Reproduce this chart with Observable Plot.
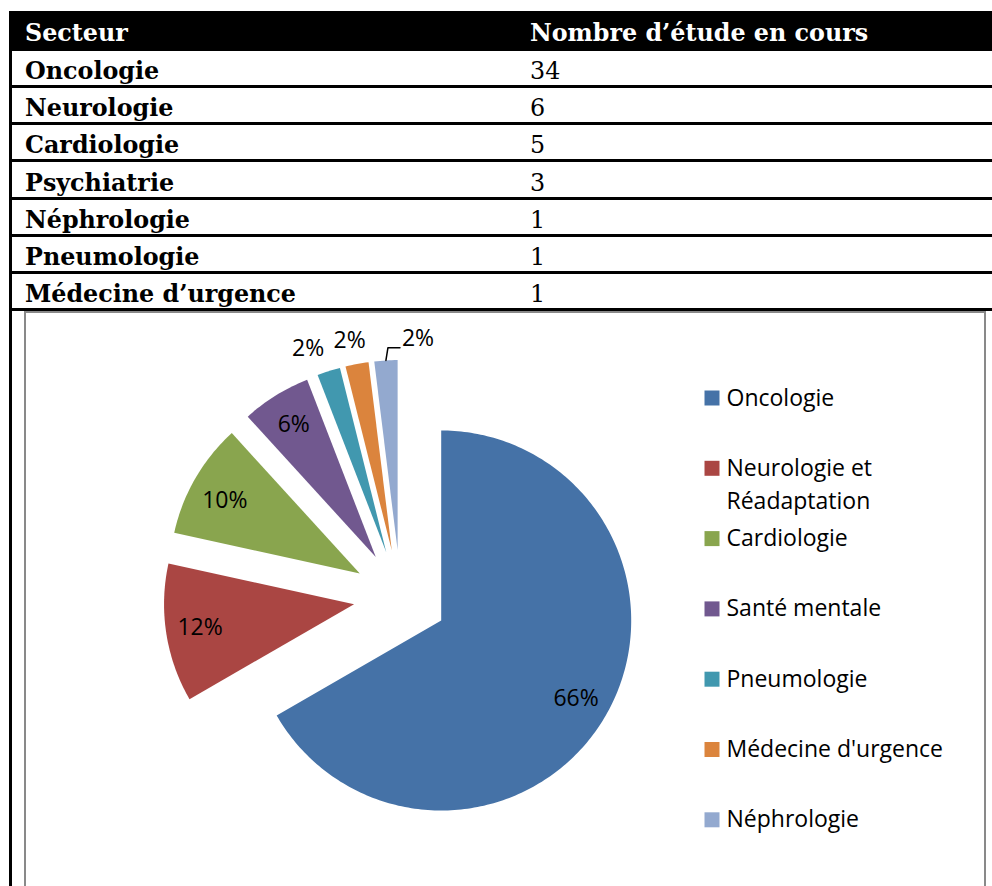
<!DOCTYPE html>
<html>
<head>
<meta charset="utf-8">
<script src="https://cdn.jsdelivr.net/npm/d3@7"></script>
<script src="https://cdn.jsdelivr.net/npm/@observablehq/plot@0.6"></script>
<style>
  html, body { margin: 0; padding: 0; background: #fff; width: 992px; height: 886px; overflow: hidden; }
  body { position: relative; }
  .blk { position: absolute; background: #000; }
  .txt { position: absolute; font-family: "DejaVu Serif", serif; font-size: 23.8px; line-height: 27.7px; white-space: nowrap; }
  .hdr { color: #fff; font-weight: bold; }
  .lab { color: #000; font-weight: bold; }
  .val { color: #000; font-weight: normal; }
  #frame { position: absolute; left: 24px; top: 311px; width: 962px; height: 620px; box-sizing: border-box; border: 2px solid #898989; background: #fff; }
  #chart { position: absolute; left: 26px; top: 313px; }
</style>
</head>
<body>
<div id="page"></div>
<div id="frame"></div>
<div id="chart"></div>
<script>
// ---- Table data ----
const tableHeaders = ["Secteur", "Nombre d’étude en cours"];
const tableSectors = ["Oncologie", "Neurologie", "Cardiologie", "Psychiatrie", "Néphrologie", "Pneumologie", "Médecine d’urgence"];
const tableCounts = [34, 6, 5, 3, 1, 1, 1];

// ---- Pie chart data ----
const pieCategories = ["Oncologie", "Neurologie et Réadaptation", "Cardiologie", "Santé mentale", "Pneumologie", "Médecine d'urgence", "Néphrologie"];
const pieValues = [34, 6, 5, 3, 1, 1, 1];
const pieLabels = ["66%", "12%", "10%", "6%", "2%", "2%", "2%"];
const pieColors = ["#4572A7", "#AA4643", "#89A54E", "#71588F", "#4198AF", "#DB843D", "#93A9CF"];

// ---- Table layout (HTML) ----
const page = document.getElementById("page");
function el(cls, css, text) {
  const d = document.createElement("div");
  d.className = cls;
  Object.assign(d.style, css);
  if (text != null) d.textContent = text;
  page.appendChild(d);
  return d;
}
const ASC = 22.08; // baseline offset inside the line box
const col1 = 25, col2 = 530, pitch = 37.2;
el("blk", {left: "9px", top: "11px", width: "990px", height: "40px"});
el("blk", {left: "9px", top: "11px", width: "3px", height: "880px"});
el("txt hdr", {left: col1 + "px", top: (42 - ASC) + "px"}, tableHeaders[0]);
el("txt hdr", {left: col2 + "px", top: (42 - ASC) + "px"}, tableHeaders[1]);
tableSectors.forEach((s, i) => {
  el("blk", {left: "9px", top: (85 + i * pitch) + "px", width: "990px", height: "3px"});
  const base = 80 + i * pitch;
  el("txt lab", {left: col1 + "px", top: (base - ASC) + "px"}, s);
  el("txt val", {left: col2 + "px", top: (base - ASC) + "px"}, String(tableCounts[i]));
});

// ---- Pie geometry ----
const W = 958, H = 573;
const cx = 374, cy = 283.5, R = 190, EXPLODE = 47;
const total = d3.sum(pieValues);
const data = pieCategories.map((c, i) => ({key: c, value: pieValues[i], label: pieLabels[i]}));
const arcs = d3.pie().sort(null).value(d => d.value)(data);

const polys = [];
const labels = [];
const labelNudge = [[0, 0], [0, 0], [0, 5], [0, 0], [-12.5, 2.7], [-2.5, 2.6], [33.7, 4.6]];
let leader = [];
arcs.forEach((a, i) => {
  const key = a.data.key;
  const mid = (a.startAngle + a.endAngle) / 2;
  const dx = Math.sin(mid), dy = -Math.cos(mid);
  const ax = cx + EXPLODE * dx, ay = cy + EXPLODE * dy;
  polys.push({key, x: ax, y: ay});
  const n = Math.max(2, Math.ceil((a.endAngle - a.startAngle) / (Math.PI / 180)));
  for (let k = 0; k <= n; ++k) {
    const t = a.startAngle + (a.endAngle - a.startAngle) * k / n;
    polys.push({key, x: ax + R * Math.sin(t), y: ay - R * Math.cos(t)});
  }
  const share = a.data.value / total;
  const k = share >= 0.05 ? 0.82 : 1.14;
  const lx = ax + k * R * dx + labelNudge[i][0];
  const ly = ay + k * R * dy + labelNudge[i][1];
  labels.push({x: lx, y: ly, text: a.data.label});
  if (i === arcs.length - 1) {
    const px = ax + R * dx, py = ay + R * dy;
    leader = [{x: px, y: py}, {x: px + 2, y: ly + 9.3}, {x: lx - 18, y: ly + 9.3}];
  }
});

// ---- Legend layout ----
const legendSquareX = 685.5, legendTextX = 700, legendTop = 84.5, legendStep = 70.3;
const LFS = 23, LLH = 1.43;
function wrap(s) {
  if (s.length <= 20) return s;
  const cut = s.lastIndexOf(" ", 14);
  return s.slice(0, cut) + "\n" + s.slice(cut + 1);
}
const legend = pieCategories.map((c, i) => ({key: c, label: wrap(c), y: legendTop + i * legendStep}));

const chart = Plot.plot({
  width: W,
  height: H,
  margin: 0,
  x: {domain: [0, W], range: [0, W], axis: null},
  y: {domain: [0, H], range: [0, H], axis: null},
  color: {domain: pieCategories, range: pieColors},
  style: {background: "transparent", overflow: "visible"},
  marks: [
    Plot.line(polys, {x: "x", y: "y", z: "key", fill: "key", stroke: "none", curve: "linear-closed"}),
    Plot.text(labels, {x: "x", y: "y", text: "text", fontSize: 23, fontFamily: "Open Sans", fill: "#000"}),
    Plot.line(leader, {x: "x", y: "y", stroke: "#000", strokeWidth: 1.5}),
    Plot.dot(legend, {x: () => legendSquareX, y: "y", symbol: "square", r: 15 / Math.sqrt(Math.PI), fill: "key", stroke: "none"}),
    Plot.text(legend, {
      x: () => legendTextX,
      y: d => d.y + 7.5 - 0.71 * LLH * LFS,
      text: "label",
      textAnchor: "start",
      lineAnchor: "top",
      lineHeight: LLH,
      fontSize: LFS,
      fontFamily: "Open Sans",
      fill: "#000"
    })
  ]
});
document.getElementById("chart").appendChild(chart);
</script>
</body>
</html>
